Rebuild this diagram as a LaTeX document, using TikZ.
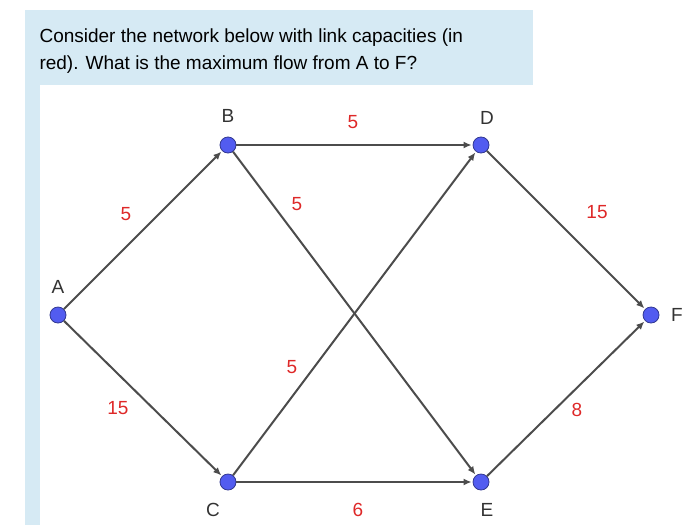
\documentclass[tikz,border=0pt]{standalone}
\usepackage{fontspec}
\setmainfont{Liberation Sans}
\usetikzlibrary{arrows.meta}
\definecolor{panel}{RGB}{214,234,244}
\definecolor{vert}{RGB}{82,92,240}
\definecolor{cap}{RGB}{222,40,40}
\tikzset{
  vtx/.style={circle,fill=vert,draw=vert!60!black,line width=0.8pt,inner sep=0pt,minimum size=16pt},
  edge/.style={draw=black!70,line width=2pt,-{Latex[length=8pt,width=7pt]},shorten >=1pt},
  lbl/.style={font=\fontsize{19}{22}\selectfont,text=black!80},
  capl/.style={font=\fontsize{19}{22}\selectfont,text=cap}
}
\begin{document}
\begin{tikzpicture}[x=1pt,y=-1pt]
        \useasboundingbox (0,0) rectangle (700,525);

        % panel
        \fill[panel] (25,10) rectangle (533,85);
        \fill[panel] (25,85) rectangle (40,525);
        \node[anchor=west,font=\fontsize{19}{22}\selectfont] at (36,38) {Consider the network below with link capacities (in};
        \node[anchor=west,font=\fontsize{19}{22}\selectfont] at (36,65) {red). What is the maximum flow from A to F?};

        % vertices
        \node[vtx] (A) at (58,315) {};
        \node[vtx] (B) at (228,145) {};
        \node[vtx] (C) at (228,482) {};
        \node[vtx] (D) at (481,145) {};
        \node[vtx] (E) at (481,482) {};
        \node[vtx] (F) at (651,315) {};

        % vertex names
        \node[lbl] at (58,287) {A};
        \node[lbl] at (228,116) {B};
        \node[lbl] at (487,118) {D};
        \node[lbl] at (213,510) {C};
        \node[lbl] at (487,510) {E};
        \node[lbl] at (677,315) {F};

        % links
        \draw[edge] (A) -- (B);
        \draw[edge] (A) -- (C);
        \draw[edge] (B) -- (D);
        \draw[edge] (B) -- (E);
        \draw[edge] (C) -- (D);
        \draw[edge] (C) -- (E);
        \draw[edge] (D) -- (F);
        \draw[edge] (E) -- (F);

        % capacities
        \node[capl] at (126,214) {5};
        \node[capl] at (118,408) {15};
        \node[capl] at (353,122) {5};
        \node[capl] at (297,204) {5};
        \node[capl] at (292,367) {5};
        \node[capl] at (358,510) {6};
        \node[capl] at (597,212) {15};
        \node[capl] at (577,410) {8};
\end{tikzpicture}
\end{document}
